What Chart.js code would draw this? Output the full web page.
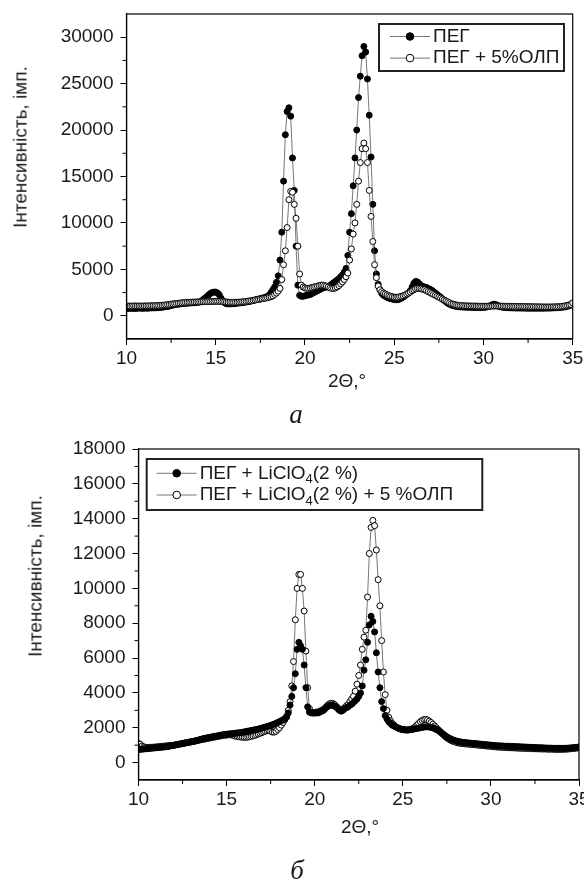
<!DOCTYPE html>
<html>
<head>
<meta charset="utf-8">
<script src="https://cdn.jsdelivr.net/npm/chart.js@4.4.1/dist/chart.umd.min.js"></script>
<style>
  body { margin: 0; background: #fff; width: 584px; height: 883px; position: relative; overflow: hidden;
         font-family: "Liberation Sans", Arial, sans-serif; color: #1a1a1a; }
  .plot { position: absolute; left: 0; }
  .lbl { position: absolute; transform: translate(-50%, -50%); white-space: nowrap; font-size: 19px; line-height: 1; }
  .rot { transform: translate(-50%, -50%) rotate(-90deg); }
  .cap { font-family: "Liberation Serif", "Times New Roman", serif; font-style: italic; font-size: 27px; }
</style>
</head>
<body>
<canvas id="chartA" class="plot" width="584" height="440" style="top:0"></canvas>
<canvas id="chartB" class="plot" width="584" height="443" style="top:440px"></canvas>

<div class="lbl rot" style="left:20px; top:147px">Інтенсивність, імп.</div>
<div class="lbl" style="left:347px; top:380px">2Θ,°</div>
<div class="lbl cap" style="left:296px; top:414px">а</div>

<div class="lbl rot" style="left:35px; top:576px">Інтенсивність, імп.</div>
<div class="lbl" style="left:360px; top:826px">2Θ,°</div>
<div class="lbl cap" style="left:297px; top:870px">б</div>

<script>
// 2Θ scan: 10° .. 35°, step 0.1°
const angleStart = 10;
const angleStep = 0.1;

const xTicks = [10, 15, 20, 25, 30, 35];
const xMinor = [12.5, 17.5, 22.5, 27.5, 32.5];
const yTicksA = [0, 5000, 10000, 15000, 20000, 25000, 30000];
const yMinorA = [2500, 7500, 12500, 17500, 22500, 27500];
const yTicksB = [0, 2000, 4000, 6000, 8000, 10000, 12000, 14000, 16000, 18000];
const yMinorB = [1000, 3000, 5000, 7000, 9000, 11000, 13000, 15000, 17000];

// (а) ПЕГ
const pegA = [
  800,780,820,800,790,810,800,830,820,800,
  820,830,810,850,840,860,850,870,880,900,
  920,950,980,1000,1050,1100,1150,1200,1220,1250,
  1280,1300,1320,1350,1350,1370,1380,1400,1400,1420,
  1450,1500,1600,1750,1900,2050,2250,2400,2500,2550,
  2550,2450,2250,1900,1600,1400,1300,1280,1280,1300,
  1300,1320,1350,1380,1400,1420,1450,1480,1520,1550,
  1600,1650,1700,1750,1800,1850,1900,1950,2000,2100,
  2250,2500,2800,3100,3600,4300,6000,9000,14500,19500,
  22000,22400,21500,17000,13500,7500,3300,2200,2100,2100,
  2150,2200,2250,2300,2400,2500,2600,2700,2800,2900,
  3000,3050,3100,3150,3250,3400,3550,3700,3850,4000,
  4200,4400,4700,5100,6500,9000,11000,14000,17000,20000,
  23500,25800,28000,29000,28400,25500,21600,17100,12000,7000,
  4500,3400,2800,2400,2200,2100,2000,1900,1850,1800,
  1750,1720,1750,1800,1900,2000,2150,2300,2450,2700,
  3100,3500,3700,3650,3450,3250,3150,3100,3050,2950,
  2850,2750,2600,2450,2300,2150,2000,1800,1650,1500,
  1350,1250,1150,1100,1050,1000,980,960,950,940,
  930,920,920,910,910,900,900,900,890,890,
  900,920,950,1000,1100,1200,1250,1200,1100,1000,
  950,920,900,880,870,860,850,850,840,840,
  840,830,830,830,820,820,820,820,820,820,
  820,820,820,820,820,830,830,830,840,850,
  860,870,880,900,920,950,980,1020,1080,1150,
  1250
];

// (а) ПЕГ + 5%ОЛП
const pegOlpA = [
  1050,1050,1040,1050,1060,1050,1050,1060,1050,1050,
  1060,1060,1070,1070,1080,1080,1090,1100,1100,1120,
  1130,1150,1170,1200,1220,1250,1280,1300,1320,1350,
  1370,1400,1420,1430,1450,1450,1460,1470,1480,1480,
  1490,1500,1500,1510,1520,1520,1530,1530,1540,1550,
  1550,1550,1550,1540,1520,1500,1480,1470,1460,1450,
  1450,1450,1460,1470,1480,1500,1520,1550,1580,1600,
  1630,1660,1700,1730,1760,1800,1830,1870,1900,1950,
  2000,2050,2150,2300,2450,2650,2950,3900,5500,7000,
  9500,12500,13400,13300,12000,10500,7500,4500,3300,3100,
  3000,2950,2950,3000,3050,3100,3150,3200,3250,3300,
  3300,3250,3200,3100,3000,2950,2950,3000,3100,3250,
  3450,3650,3900,4200,4600,6000,7200,8800,10000,12000,
  14500,16500,18000,18600,18000,16500,13500,10700,8000,5500,
  4100,3200,2800,2600,2450,2350,2250,2150,2100,2050,
  2000,2000,2000,2050,2100,2150,2250,2350,2450,2550,
  2700,2800,2900,2950,2950,2900,2850,2800,2700,2600,
  2500,2400,2300,2200,2100,2000,1900,1800,1700,1600,
  1500,1400,1300,1250,1200,1150,1120,1100,1100,1080,
  1070,1060,1060,1050,1050,1050,1040,1040,1030,1030,
  1030,1030,1030,1030,1040,1040,1050,1050,1050,1050,
  1040,1040,1030,1030,1020,1020,1020,1010,1010,1010,
  1000,1000,1000,990,990,980,980,980,970,970,
  970,960,960,960,950,950,950,950,950,960,
  960,970,980,1000,1020,1050,1080,1120,1170,1230,
  1400
];

// (б) ПЕГ + LiClO4(2 %)
const pegLiB = [
  750,760,770,780,790,800,810,820,830,840,
  850,860,870,880,890,900,910,930,950,970,
  990,1010,1030,1050,1070,1090,1110,1130,1150,1170,
  1190,1210,1230,1260,1290,1320,1350,1380,1400,1420,
  1440,1460,1480,1500,1520,1540,1560,1580,1600,1610,
  1620,1640,1650,1660,1670,1680,1700,1710,1720,1740,
  1760,1780,1800,1820,1840,1860,1880,1900,1920,1950,
  1980,2010,2040,2070,2100,2130,2170,2210,2250,2300,
  2350,2400,2450,2520,2600,2850,3300,3800,4300,5100,
  6500,6900,6700,6500,5600,4300,3200,2900,2850,2850,
  2850,2850,2850,2900,2950,3000,3100,3200,3250,3300,
  3300,3250,3200,3100,3000,2950,3000,3100,3150,3200,
  3300,3350,3450,3550,3650,3800,4000,4400,5300,5900,
  6900,7900,8400,8100,7500,6300,5200,4300,3500,3100,
  2700,2500,2350,2250,2150,2100,2050,2000,1950,1920,
  1900,1880,1870,1870,1880,1900,1920,1940,1960,1980,
  2000,2020,2040,2050,2050,2040,2020,2000,1950,1900,
  1850,1780,1700,1620,1550,1480,1420,1370,1320,1280,
  1250,1220,1200,1180,1160,1150,1140,1130,1120,1110,
  1100,1090,1080,1070,1060,1050,1040,1030,1020,1010,
  1000,990,980,970,960,960,950,950,940,940,
  940,930,930,920,920,910,910,900,900,890,
  890,880,880,870,870,860,860,850,850,850,
  840,840,830,830,830,820,820,820,820,820,
  820,820,820,830,830,840,850,860,870,880,
  900
];

// (б) ПЕГ + LiClO4(2 %) + 5 %ОЛП
const pegLiOlpB = [
  1100,1050,950,900,880,870,870,880,880,890,
  900,910,920,930,940,950,960,970,980,990,
  1000,1020,1040,1060,1080,1100,1120,1140,1160,1180,
  1200,1220,1240,1260,1280,1300,1320,1340,1360,1380,
  1400,1420,1440,1460,1480,1500,1520,1540,1560,1570,
  1580,1590,1600,1580,1550,1520,1500,1480,1470,1460,
  1450,1450,1460,1480,1500,1530,1560,1600,1640,1680,
  1720,1760,1800,1830,1850,1800,1750,1750,1800,1900,
  2000,2150,2300,2450,2650,3000,3500,4400,5800,8200,
  10000,10800,10800,10000,8700,6400,4300,3100,2900,2850,
  2850,2900,2900,2950,3000,3050,3150,3250,3350,3400,
  3400,3350,3250,3150,3050,3000,3050,3150,3250,3350,
  3500,3650,3800,4100,4500,5000,5600,6500,7200,7600,
  9500,12000,13500,13900,13600,12200,10500,9000,7000,5200,
  3900,3000,2600,2400,2250,2150,2050,2000,1950,1920,
  1900,1880,1870,1880,1900,1930,1970,2050,2150,2250,
  2350,2420,2470,2480,2450,2380,2300,2200,2100,2000,
  1900,1800,1700,1600,1500,1420,1350,1290,1240,1200,
  1170,1140,1120,1100,1090,1080,1070,1060,1050,1040,
  1030,1020,1010,1000,990,980,970,960,950,940,
  930,920,910,900,890,880,880,870,870,860,
  860,850,850,840,840,830,830,820,820,820,
  810,810,800,800,800,790,790,790,780,780,
  780,780,770,770,770,770,760,760,760,760,
  760,760,770,770,780,790,800,810,820,840,
  860
];

const FONT = '"Liberation Sans", Arial, sans-serif';
const INK = '#1a1a1a';

function toPoints(values) {
  return values.map((y, i) => ({ x: +(angleStart + i * angleStep).toFixed(1), y: y }));
}

function series(label, values, filled, order) {
  return {
    label: label,
    data: toPoints(values),
    order: order,
    borderColor: '#555',
    borderWidth: 0.8,
    pointRadius: 3,
    pointBorderWidth: 1,
    pointBorderColor: '#000',
    pointBackgroundColor: filled ? '#000' : '#fff',
    tension: 0
  };
}

// frame around the plot + short minor ticks
const framePlugin = {
  id: 'frame',
  afterDraw(chart, args, o) {
    const { ctx, chartArea: a, scales } = chart;
    ctx.save();
    ctx.strokeStyle = '#000';
    ctx.lineWidth = 1.2;
    ctx.strokeRect(a.left, a.top, a.right - a.left, a.bottom - a.top);
    ctx.lineWidth = 1;
    ctx.beginPath();
    o.xMinor.forEach(v => {
      const px = scales.x.getPixelForValue(v);
      ctx.moveTo(px, a.bottom); ctx.lineTo(px, a.bottom + 4);
    });
    o.yMinor.forEach(v => {
      const py = scales.y.getPixelForValue(v);
      ctx.moveTo(a.left - 4, py); ctx.lineTo(a.left, py);
    });
    ctx.stroke();
    ctx.restore();
  }
};

// legend in a box inside the plot, subscript for the "₄"
const boxLegendPlugin = {
  id: 'boxLegend',
  afterDraw(chart, args, o) {
    const ctx = chart.ctx;
    const big = '19px ' + FONT;
    const small = '13px ' + FONT;
    ctx.save();
    ctx.strokeStyle = '#222';
    ctx.lineWidth = 2;
    ctx.strokeRect(o.x, o.y, o.w, o.h);
    ctx.textBaseline = 'middle';
    ctx.fillStyle = INK;
    chart.data.datasets.forEach((ds, i) => {
      const cy = o.y + o.rowTop + i * o.rowGap;
      const sx = o.x + o.symX;
      ctx.strokeStyle = '#555';
      ctx.lineWidth = 0.8;
      ctx.beginPath();
      ctx.moveTo(sx, cy); ctx.lineTo(sx + o.symW, cy);
      ctx.stroke();
      ctx.beginPath();
      ctx.arc(sx + o.symW / 2, cy, 3.8, 0, Math.PI * 2);
      ctx.fillStyle = ds.pointBackgroundColor;
      ctx.fill();
      ctx.strokeStyle = '#000';
      ctx.lineWidth = 1;
      ctx.stroke();
      ctx.fillStyle = INK;
      let tx = o.x + o.textX;
      ds.label.split(/(₄)/).forEach(part => {
        if (part === '₄') {
          ctx.font = small;
          ctx.fillText('4', tx, cy + 6);
          tx += ctx.measureText('4').width;
        } else {
          ctx.font = big;
          ctx.fillText(part, tx, cy);
          tx += ctx.measureText(part).width;
        }
      });
    });
    ctx.restore();
  }
};

function makeChart(id, cfg) {
  return new Chart(document.getElementById(id), {
    type: 'line',
    data: { datasets: cfg.datasets },
    options: {
      responsive: false,
      animation: false,
      events: [],
      layout: { padding: cfg.padding },
      plugins: {
        legend: { display: false },
        tooltip: { enabled: false },
        frame: { xMinor: xMinor, yMinor: cfg.yMinor },
        boxLegend: cfg.legend
      },
      scales: {
        x: {
          type: 'linear',
          min: 10,
          max: 35,
          afterBuildTicks: s => { s.ticks = xTicks.map(v => ({ value: v })); },
          afterFit: s => { s.height = 40; s.paddingLeft = 0; s.paddingRight = 0; },
          ticks: { color: INK, font: { family: FONT, size: 19 }, padding: 2, maxRotation: 0, autoSkip: false,
                   callback: v => String(v) },
          grid: { drawOnChartArea: false, drawTicks: true, tickLength: 6, color: '#000', tickWidth: 1 },
          border: { display: true, color: '#000', width: 1.2 }
        },
        y: {
          min: cfg.yMin,
          max: cfg.yMax,
          afterBuildTicks: s => { s.ticks = cfg.yTicks.map(v => ({ value: v })); },
          afterFit: s => { s.width = cfg.yWidth; s.paddingTop = 0; s.paddingBottom = 0; },
          ticks: { color: INK, font: { family: FONT, size: 19 }, padding: 7, autoSkip: false,
                   callback: v => String(v) },
          grid: { drawOnChartArea: false, drawTicks: true, tickLength: 6, color: '#000', tickWidth: 1 },
          border: { display: true, color: '#000', width: 1.2 }
        }
      }
    },
    plugins: [framePlugin, boxLegendPlugin]
  });
}

makeChart('chartA', {
  datasets: [
    series('ПЕГ', pegA, true, 1),
    series('ПЕГ + 5%ОЛП', pegOlpA, false, 0)
  ],
  padding: { left: 0, top: 14, right: 11.3, bottom: 61 },
  yMin: -2500, yMax: 32500, yTicks: yTicksA, yMinor: yMinorA, yWidth: 126.5,
  legend: { x: 379, y: 24, w: 185, h: 47, rowTop: 12.5, rowGap: 21.6, symX: 11, symW: 40, textX: 54 }
});

makeChart('chartB', {
  datasets: [
    series('ПЕГ + LiClO₄(2 %)', pegLiB, true, 0),
    series('ПЕГ + LiClO₄(2 %) + 5 %ОЛП', pegLiOlpB, false, 1)
  ],
  padding: { left: 0, top: 9, right: 4.7, bottom: 63 },
  yMin: -1000, yMax: 18000, yTicks: yTicksB, yMinor: yMinorB, yWidth: 138.5,
  legend: { x: 146.7, y: 19, w: 335.6, h: 51, rowTop: 14.3, rowGap: 21.7, symX: 10, symW: 40, textX: 53 }
});
</script>
</body>
</html>
